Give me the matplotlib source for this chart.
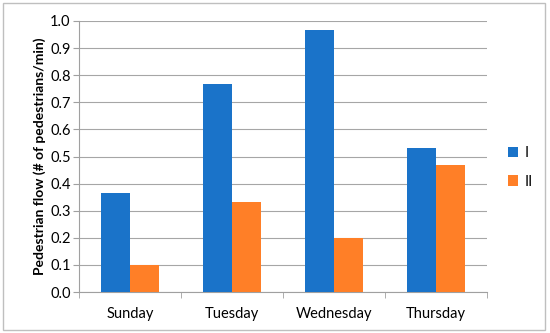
import matplotlib
matplotlib.use('Agg')
import matplotlib.pyplot as plt
import numpy as np
from matplotlib.patches import Rectangle

plt.rcParams['font.family'] = ['Lato', 'DejaVu Sans']

days = ['Sunday', 'Tuesday', 'Wednesday', 'Thursday']
series_I = [0.367, 0.767, 0.967, 0.533]
series_II = [0.1, 0.333, 0.2, 0.467]
series_names = ['I', 'II']

fig = plt.figure(figsize=(5.5, 3.33), dpi=100)
ax = fig.add_axes([79 / 550, 1 - 292 / 333, (487 - 79) / 550, (292 - 21) / 333])

# outer chart frame
fig.patches.append(Rectangle((3 / 550, 3 / 333), 542 / 550, 327 / 333,
                             transform=fig.transFigure, fill=False,
                             edgecolor='#bfbfbf', linewidth=1))

x = np.arange(len(days))
w = 0.285
ax.bar(x - w / 2, series_I, w, color='#1a73c9', label=series_names[0], zorder=3)
ax.bar(x + w / 2, series_II, w, color='#ff7f27', label=series_names[1], zorder=3)

ax.set_xlim(-0.5, 3.5)
ax.set_ylim(0, 1.0)
ax.set_yticks(np.arange(0, 1.01, 0.1))
ax.set_yticklabels([f'{v:.1f}' for v in np.arange(0, 1.01, 0.1)], fontsize=10.5)
ax.set_xticks(x)
ax.set_xticklabels(days, fontsize=10.5)
ax.set_xticks(np.arange(-0.5, 3.6, 1), minor=True)
ax.tick_params(axis='x', which='major', length=0, pad=11)
ax.tick_params(axis='x', which='minor', length=4, color='#a0a0a0')
ax.tick_params(axis='y', length=4, color='#a0a0a0', pad=2)
ax.grid(axis='y', color='#a6a6a6', linewidth=0.8, zorder=0)
for s in ['top', 'right']:
    ax.spines[s].set_visible(False)
ax.spines['left'].set_color('#a0a0a0')
ax.spines['bottom'].set_color('#a0a0a0')

ax.set_ylabel('Pedestrian flow (# of pedestrians/min)', fontsize=10,
              fontweight='bold', labelpad=3)

ax.legend(loc='center left', bbox_to_anchor=(1.02, 0.46), frameon=False,
          fontsize=10.5, handlelength=0.7, handleheight=0.7, handletextpad=0.4,
          labelspacing=1.0)

fig.savefig('out.png', dpi=100)
